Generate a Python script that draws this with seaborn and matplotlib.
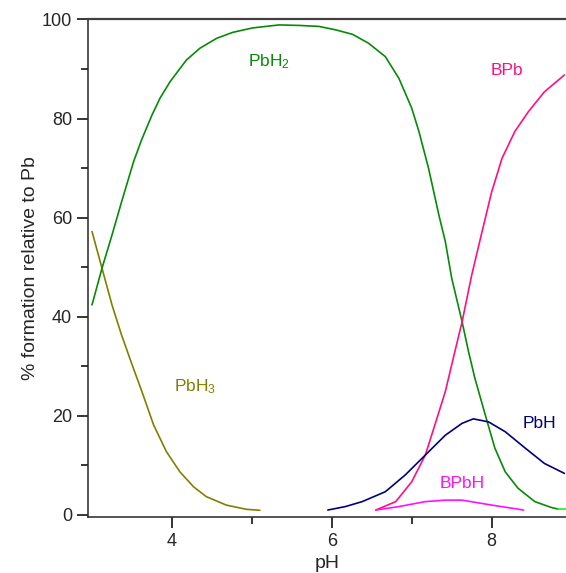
import matplotlib
matplotlib.use("Agg")
import matplotlib.pyplot as plt
import numpy as np
import pandas as pd
import seaborn as sns

# species distribution curves (pH, % formation)
ph_pbh3 = [3.0, 3.125, 3.25, 3.37, 3.50, 3.62, 3.77, 3.93, 4.10, 4.27, 4.43, 4.68, 4.93, 5.10]
pct_pbh3 = [57.2, 49.8, 42.4, 36.3, 30.4, 25.1, 18.2, 12.8, 8.7, 5.7, 3.7, 2.0, 1.15, 0.95]

ph_pbh2 = [3.0, 3.125, 3.25, 3.37, 3.52, 3.62, 3.75, 3.85, 3.975, 4.10, 4.18, 4.35, 4.56,
           4.76, 5.01, 5.34, 5.59, 5.84, 6.05, 6.26, 6.46, 6.67, 6.84, 7.0, 7.09, 7.21,
           7.34, 7.42, 7.50, 7.63, 7.71, 7.79, 7.92, 8.04, 8.17, 8.33, 8.54, 8.75, 8.83]
pct_pbh2 = [42.4, 49.8, 56.5, 63.2, 71.3, 75.7, 80.7, 84.1, 87.4, 90.1, 91.8, 94.2, 96.2,
            97.4, 98.3, 98.9, 98.8, 98.6, 97.9, 97.0, 95.2, 92.5, 88.1, 82.1, 77.4, 70.0,
            60.5, 55.2, 47.8, 39.0, 33.0, 27.6, 20.2, 13.5, 8.7, 5.4, 2.7, 1.5, 1.2]

ph_tail = [8.83, 8.93]
pct_tail = [1.2, 1.2]

ph_bpb = [6.55, 6.80, 7.0, 7.17, 7.29, 7.42, 7.54, 7.63, 7.75, 7.88, 8.0, 8.13, 8.29,
          8.46, 8.66, 8.91]
pct_bpb = [1.0, 2.7, 6.7, 12.1, 18.2, 24.9, 33.0, 39.0, 48.4, 57.2, 65.2, 72.0, 77.4,
           81.4, 85.4, 88.8]

ph_pbh = [5.95, 6.17, 6.38, 6.67, 6.92, 7.17, 7.42, 7.63, 7.77, 7.96, 8.17, 8.42, 8.66, 8.91]
pct_pbh = [1.0, 1.7, 2.7, 4.7, 8.1, 12.1, 16.1, 18.5, 19.4, 18.8, 16.8, 13.5, 10.4, 8.4]

ph_bpbh = [6.55, 6.84, 7.17, 7.42, 7.63, 8.0, 8.40]
pct_bpbh = [1.0, 1.7, 2.7, 3.0, 3.0, 2.0, 1.0]

series = [
    ("PbH3", ph_pbh3, pct_pbh3, "#808000"),
    ("PbH2", ph_pbh2, pct_pbh2, "#078a07"),
    ("tail", ph_tail, pct_tail, "#22ee22"),
    ("BPb", ph_bpb, pct_bpb, "#ff1080"),
    ("PbH", ph_pbh, pct_pbh, "#00007f"),
    ("BPbH", ph_bpbh, pct_bpbh, "#ff10ff"),
]

labels = [
    (r"PbH$_3$", 4.29, 25.9, "#808000"),
    (r"PbH$_2$", 5.22, 91.5, "#078a07"),
    ("BPb", 8.19, 89.8, "#ff1080"),
    ("PbH", 8.6, 18.5, "#00007f"),
    ("BPbH", 7.63, 6.4, "#ff10ff"),
]

sns.set_style("ticks")
plt.rcParams["font.family"] = ["Liberation Sans", "DejaVu Sans"]
plt.rcParams["mathtext.fontset"] = "custom"
plt.rcParams["mathtext.rm"] = "Liberation Sans"
plt.rcParams["mathtext.it"] = "Liberation Sans"

fig = plt.figure(figsize=(5.66, 5.73), dpi=100)
ax = fig.add_axes([0.1555, 0.0969, 0.8445, 0.8691])

for name, xs, ys, col in series:
    df = pd.DataFrame({"pH": xs, "pct": ys})
    sns.lineplot(data=df, x="pH", y="pct", color=col, linewidth=1.2, ax=ax, sort=False)

for txt, x, y, col in labels:
    ax.text(x, y, txt, color=col, fontsize=12.5, ha="center", va="center")

ax.set_xlim(2.95, 8.93)
ax.set_ylim(-0.5, 100)
ax.set_xticks([4, 6, 8])
ax.set_xticks([5, 7], minor=True)
ax.set_yticks([0, 20, 40, 60, 80, 100])
ax.set_yticks([10, 30, 50, 70, 90], minor=True)
ax.tick_params(which="major", length=8, width=1.1, labelsize=13, direction="out", color="black")
ax.tick_params(which="minor", length=5, width=1.1, direction="out", color="black")

ax.spines["right"].set_visible(False)
ax.spines["top"].set_color("#404040")
ax.spines["top"].set_linewidth(1.6)
ax.spines["left"].set_linewidth(1.1)
ax.spines["bottom"].set_linewidth(1.1)

ax.set_xlabel("pH", fontsize=14, labelpad=3)
ax.set_ylabel("% formation relative to Pb", fontsize=14, labelpad=2)

fig.savefig("out.png", dpi=100)
